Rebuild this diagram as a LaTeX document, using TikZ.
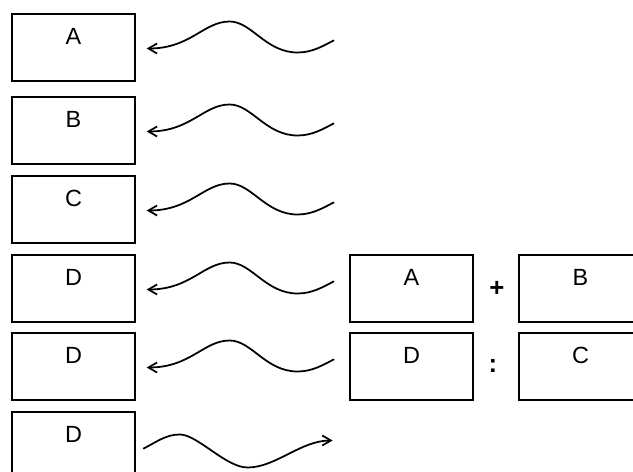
\documentclass[tikz,border=0pt]{standalone}
\usepackage{fontspec}
\setmainfont{Liberation Sans}
\usetikzlibrary{arrows.meta,calc}

\begin{document}
\begin{tikzpicture}[x=0.03cm, y=-0.03cm, >={Straight Barb[length=2.6mm,width=3mm]},
  font=\fontsize{20}{24}\selectfont,
  box/.style={draw, line width=1.1pt, minimum width=3.69cm, minimum height=2.01cm,
    text depth=0.69cm, inner sep=0pt},
  wave/.style={line width=1.5pt, line cap=round},
  sign/.style={font=\fontsize{22}{26}\selectfont\bfseries}]
  \useasboundingbox (0,0) rectangle (633,472);
  % left column of boxes
  \foreach \i/\y/\lab in {1/47.5/A, 2/130.5/B, 3/209.5/C, 4/288.5/D, 5/366.5/D, 6/445.5/D}
    \node[box] (l\i) at (73.5,\y) {\lab};
  % the two pairs on the right
  \node[box] (pa) at (411.5,288.5) {A};
  \node[box] (pb) at (580.5,288.5) {B};
  \node[box] (qd) at (411.5,366.5) {D};
  \node[box] (qc) at (580.5,366.5) {C};
  \node[sign] (plus) at (497,289) {+};
  \node[sign] (ratio) at (493,366) {:};
  % wavy arrows pointing back into the boxes
  \foreach \i in {1,...,5}
    \draw[wave,<-] ($(l\i.east)+(11,1)$) .. controls +(44,0) and +(-26,0) .. ($(l\i.east)+(94,-26)$)
      .. controls +(22,0) and +(-32,0) .. ($(l\i.east)+(162,5)$)
      .. controls +(15,0) and +(-10,5) .. ($(l\i.east)+(198,-7)$);
  % last one goes out
  \draw[wave,->] ($(l6.east)+(8,3)$) .. controls +(12,-6) and +(-14,0) .. ($(l6.east)+(44,-11)$)
    .. controls +(18,0) and +(-22,0) .. ($(l6.east)+(112,22)$)
    .. controls +(28,0) and +(-32,0) .. ($(l6.east)+(197,-5)$);
\end{tikzpicture}
\end{document}
